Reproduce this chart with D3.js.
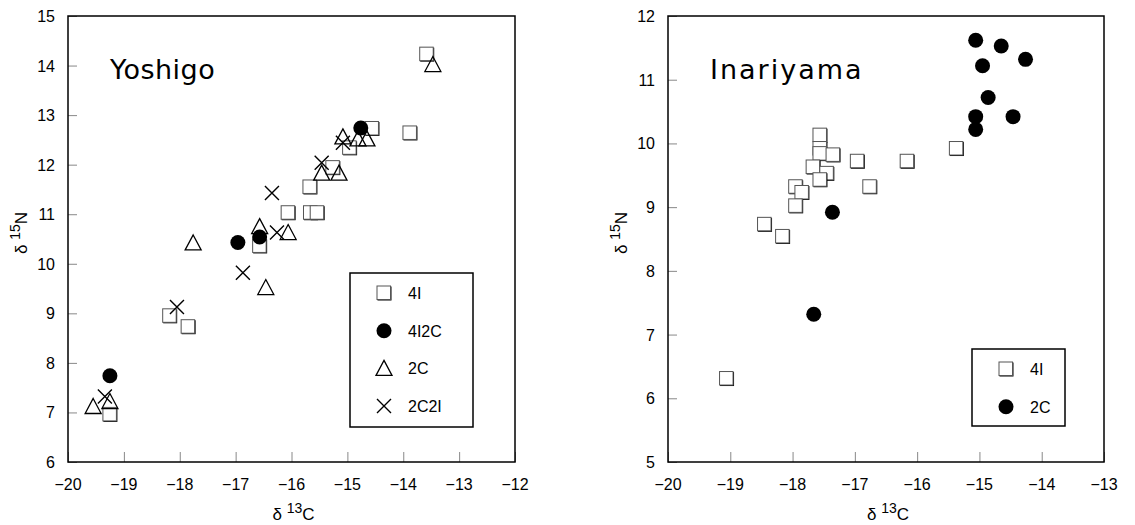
<!DOCTYPE html>
<html>
<head>
<meta charset="utf-8">
<script src="https://cdn.jsdelivr.net/npm/d3@7"></script>
<style>
  body { margin: 0; background: #fff; }
  text { font-family: "Liberation Sans", Arial, sans-serif; fill: #000; }
</style>
</head>
<body>
<div id="chart"></div>
<script>
const width = 1135;
const height = 525;

// Yoshigo  [d13C, d15N]
const yoshigo4I = [[-13.58, 14.23], [-14.56, 12.73], [-13.88, 12.64], [-14.96, 12.34], [-15.26, 11.94],
  [-15.67, 11.55], [-16.06, 11.03], [-15.66, 11.03], [-15.54, 11.03], [-16.57, 10.36],
  [-18.18, 8.95], [-17.85, 8.73], [-19.25, 6.96]];
const yoshigo4I2C = [[-14.76, 12.74], [-16.96, 10.43], [-16.57, 10.54], [-19.25, 7.74]];
const yoshigo2C = [[-13.47, 14.02], [-14.65, 12.52], [-14.81, 12.52], [-15.08, 12.56], [-15.46, 11.83],
  [-15.15, 11.83], [-16.57, 10.75], [-16.06, 10.63], [-17.76, 10.42], [-16.46, 9.52],
  [-19.55, 7.12], [-19.25, 7.22]];
const yoshigo2C2I = [[-15.08, 12.44], [-15.46, 12.04], [-16.35, 11.43], [-16.26, 10.63], [-16.87, 9.82],
  [-18.05, 9.13], [-19.34, 7.32]];

// Inariyama
const inariyama4I = [[-17.56, 10.13], [-17.56, 9.92], [-17.56, 9.84], [-17.35, 9.82], [-16.96, 9.72],
  [-16.16, 9.72], [-15.37, 9.92], [-17.67, 9.63], [-17.45, 9.53], [-17.56, 9.43], [-16.76, 9.32],
  [-17.95, 9.32], [-17.85, 9.23], [-17.95, 9.02], [-18.45, 8.73], [-18.16, 8.54], [-19.06, 6.31]];
const inariyama2C = [[-15.06, 11.62], [-14.65, 11.53], [-14.26, 11.32], [-14.95, 11.22], [-14.86, 10.72],
  [-15.06, 10.42], [-14.46, 10.42], [-15.06, 10.22], [-17.36, 8.92], [-17.66, 7.32]];

const yoshigoXTicks = [-20, -19, -18, -17, -16, -15, -14, -13, -12];
const yoshigoYTicks = [6, 7, 8, 9, 10, 11, 12, 13, 14, 15];
const inariyamaXTicks = [-20, -19, -18, -17, -16, -15, -14, -13];
const inariyamaYTicks = [5, 6, 7, 8, 9, 10, 11, 12];

const svg = d3.select('#chart')
  .append('svg')
  .attr('width', width)
  .attr('height', height)

const fmt = (d) => d < 0 ? '\u2212' + Math.abs(d) : String(d);

function drawMarker(g, shape, x, y) {
  if (shape === 'square') {
    g.append('rect').attr('x', x - 6.5).attr('y', y - 6.5).attr('width', 14).attr('height', 14)
      .attr('fill', '#000')
    g.append('rect').attr('x', x - 7).attr('y', y - 7).attr('width', 13.5).attr('height', 13.5)
      .attr('fill', '#fff').attr('stroke', '#555').attr('stroke-width', 1)
  } else if (shape === 'circle') {
    g.append('circle').attr('cx', x).attr('cy', y).attr('r', 7.5).attr('fill', '#000')
  } else if (shape === 'triangle') {
    g.append('path').attr('d', `M${x},${y - 8}L${x + 8},${y + 7}L${x - 8},${y + 7}Z`)
      .attr('fill', 'none').attr('stroke', '#000').attr('stroke-width', 1.3)
  } else if (shape === 'cross') {
    g.append('path').attr('d', `M${x - 7},${y - 7}L${x + 7},${y + 7}M${x + 7},${y - 7}L${x - 7},${y + 7}`)
      .attr('fill', 'none').attr('stroke', '#000').attr('stroke-width', 1.4)
  }
}

function drawPanel(p) {
  const g = svg.append('g');

  const x = d3.scaleLinear().domain(p.xDomain).range([p.left, p.right]);
  const y = d3.scaleLinear().domain(p.yDomain).range([p.bottom, p.top]);

  // ticks (inside)
  const xAxis = d3.axisTop(x).tickValues(p.xTicks).tickSize(10).tickFormat('').tickSizeOuter(0);
  const yAxis = d3.axisRight(y).tickValues(p.yTicks).tickSize(9).tickFormat('').tickSizeOuter(0);
  g.append('g').attr('transform', `translate(0, ${p.bottom})`).call(xAxis)
    .call(a => a.select('.domain').remove())
    .call(a => a.selectAll('line').attr('stroke', '#888'))
  g.append('g').attr('transform', `translate(${p.left}, 0)`).call(yAxis)
    .call(a => a.select('.domain').remove())
    .call(a => a.selectAll('line').attr('stroke', '#888'))

  // tick labels
  g.selectAll('.xl').data(p.xTicks).enter().append('text')
    .attr('x', d => x(d)).attr('y', p.bottom + 28)
    .attr('text-anchor', 'middle').attr('font-size', 16)
    .text(fmt)
  g.selectAll('.yl').data(p.yTicks).enter().append('text')
    .attr('x', p.left - 13).attr('y', d => y(d) + 6)
    .attr('text-anchor', 'end').attr('font-size', 16)
    .text(fmt)

  // frame
  g.append('rect').attr('x', p.left).attr('y', p.top)
    .attr('width', p.right - p.left).attr('height', p.bottom - p.top)
    .attr('fill', 'none').attr('stroke', '#000').attr('stroke-width', 1.5)

  // axis titles
  const xt = g.append('text').attr('x', (p.left + p.right) / 2 + 2).attr('y', p.bottom + 58)
    .attr('text-anchor', 'middle').attr('font-size', 17)
  xt.append('tspan').text('\u03b4 ')
  xt.append('tspan').attr('dy', -7).attr('font-size', 14).text('13')
  xt.append('tspan').attr('dy', 7).text('C')

  const cy = (p.top + p.bottom) / 2 - 6;
  const yt = g.append('text').attr('transform', `translate(${p.left - 41}, ${cy}) rotate(-90)`)
    .attr('text-anchor', 'middle').attr('font-size', 17)
  yt.append('tspan').text('\u03b4 ')
  yt.append('tspan').attr('dy', -7).attr('font-size', 14).text('15')
  yt.append('tspan').attr('dy', 7).text('N')

  // title
  g.append('text').attr('x', p.left + 42).attr('y', p.top + 63)
    .style('font-family', '"DejaVu Sans", sans-serif').attr('font-size', 27)
    .style('letter-spacing', p.titleSpacing + 'px')
    .text(p.title)

  // points
  const pts = g.append('g');
  p.series.forEach(s => {
    s.data.forEach(d => drawMarker(pts, s.shape, x(d[0]), y(d[1])));
  });

  // legend
  const lg = g.append('g');
  lg.append('rect').attr('x', p.legend.x).attr('y', p.legend.y)
    .attr('width', p.legend.w).attr('height', p.legend.h)
    .attr('fill', '#fff').attr('stroke', '#000').attr('stroke-width', 1.5)
  p.series.forEach((s, i) => {
    const ly = p.legend.y + 20 + i * 37.7;
    drawMarker(lg, s.shape, p.legend.x + 34, ly);
    lg.append('text').attr('x', p.legend.x + 58).attr('y', ly + 6)
      .attr('font-size', 16).text(s.name)
  });
}

drawPanel({
  title: 'Yoshigo', titleSpacing: 0.5,
  left: 68, right: 515, top: 16, bottom: 462,
  xDomain: [-20, -12], yDomain: [6, 15],
  xTicks: yoshigoXTicks, yTicks: yoshigoYTicks,
  series: [
    { name: '4I', shape: 'square', data: yoshigo4I },
    { name: '4I2C', shape: 'circle', data: yoshigo4I2C },
    { name: '2C', shape: 'triangle', data: yoshigo2C },
    { name: '2C2I', shape: 'cross', data: yoshigo2C2I }
  ],
  legend: { x: 350, y: 273, w: 123, h: 154 }
});

drawPanel({
  title: 'Inariyama', titleSpacing: 2,
  left: 668, right: 1104, top: 16, bottom: 462,
  xDomain: [-20, -13], yDomain: [5, 12],
  xTicks: inariyamaXTicks, yTicks: inariyamaYTicks,
  series: [
    { name: '4I', shape: 'square', data: inariyama4I },
    { name: '2C', shape: 'circle', data: inariyama2C }
  ],
  legend: { x: 972, y: 349, w: 93, h: 77 }
});
</script>
</body>
</html>
